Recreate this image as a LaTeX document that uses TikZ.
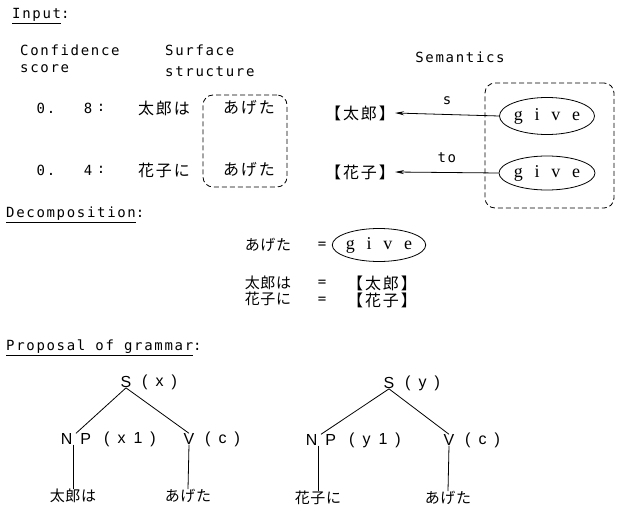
\documentclass[tikz,border=0pt]{standalone}
\usepackage{fontspec}
\usetikzlibrary{arrows.meta,shapes.geometric,fit}
\newfontfamily\monof[LetterSpace=12]{DejaVu Sans Mono}
\newfontfamily\jpf[LetterSpace=12]{Noto Sans CJK JP}
\newfontfamily\jpg[LetterSpace=4]{Noto Sans CJK JP}
\newfontfamily\serf[LetterSpace=65]{Liberation Serif}
\newfontfamily\helf[LetterSpace=50]{Liberation Sans}
\tikzset{
  lab/.style={font=\monof\fontsize{14}{16}\selectfont, inner sep=0pt},
  jp/.style={font=\jpf\fontsize{16}{18}\selectfont, inner sep=0pt},
  jps/.style={font=\jpg\fontsize{15}{17}\selectfont, inner sep=0pt},
  gv/.style={draw, line width=0.8pt, ellipse, inner sep=0pt, font=\serf\fontsize{18}{20}\selectfont},
  dashbox/.style={draw, dashed, line width=0.8pt, dash pattern=on 5pt off 3pt, rounded corners=10pt, inner sep=0pt},
  tr/.style={font=\helf\fontsize{16}{18}\selectfont, inner sep=0pt},
  arr/.style={-{Stealth[length=9pt,width=4pt]}, line width=0.8pt},
  edge/.style={line width=0.8pt}
}
\begin{document}
\begin{tikzpicture}[x=1pt,y=-1pt]
\useasboundingbox (0,0) rectangle (619,508);
% headings
\node[lab, anchor=west] (input) at (12,16) {\underline{Input}:};
\node[lab, anchor=west] (conf1) at (20,50) {Confidence};
\node[lab, anchor=west] (conf2) at (20,69) {score};
\node[lab, anchor=west] (surf1) at (165,50) {Surface};
\node[lab, anchor=west] (surf2) at (165,72) {structure};
\node[lab] (sem) at (460,57) {Semantics};
% rows
\node[lab] (s1a) at (46,108) {0.};
\node[lab] (s1b) at (88,108) {8};
\node[lab] (s1c) at (101,108) {:};
\node[lab] (s2a) at (46,170) {0.};
\node[lab] (s2b) at (88,170) {4};
\node[lab] (s2c) at (101,170) {:};
\node[jp] (w1) at (164,108) {太郎は};
\node[jp] (w2) at (164,170) {花子に};
\node[jp] (a1) at (249,108) {あげた};
\node[jp] (a2) at (249,170) {あげた};
\node[dashbox, fit={(203,95) (287,187)}] (box1) {};
\node[jp] (t1) at (360,113) {【太郎】};
\node[jp] (t2) at (360,172) {【花子】};
\node[gv, minimum width=95pt, minimum height=37pt] (g1) at (547,116) {give};
\node[gv, minimum width=96pt, minimum height=34pt] (g2) at (547,173) {give};
\node[dashbox, fit={(485,83) (614,208)}] (box2) {};
\draw[arr] (g1.west) -- node[lab, above=9pt] (ls) {s} (t1.east);
\draw[arr] (g2.west) -- node[lab, above=9pt] (lto) {to} (t2.east);
% decomposition
\node[lab, anchor=west] (decomp) at (6,215) {\underline{Decomposition}:};
\node[jps] (d1) at (268,245) {あげた};
\node[lab] (e1) at (322,245) {=};
\node[gv, minimum width=88pt, minimum height=33pt] (dg) at (379,245) {give};
\node[jps] (d2) at (268,283) {太郎は};
\node[lab] (e2) at (322,283) {=};
\node[jp] (dt) at (382,283) {【太郎】};
\node[jps] (d3) at (268,299) {花子に};
\node[lab] (e3) at (322,300) {=};
\node[jp] (dh) at (382,300) {【花子】};
% proposal
\node[lab, anchor=west] (prop) at (6,348) {\underline{Proposal of grammar}:};
% tree 1
\node[tr] (S1) at (126,382) {S};
\node[tr, anchor=west] (S1x) at (142,382) {(x)};
\node[tr] (NP1) at (76,439) {NP};
\node[tr, anchor=west] (NP1x) at (104,439) {(x1)};
\node[tr] (V1) at (189,439) {V};
\node[tr, anchor=west] (V1x) at (205,439) {(c)};
\node[jps] (L1) at (73,496) {太郎は};
\node[jps] (R1) at (188,496) {あげた};
\draw[edge] (S1.south) -- (NP1.north);
\draw[edge] (S1.south) -- (V1.north);
\draw[edge] (NP1.south -| L1.north) -- (L1.north);
\draw[edge] (V1.south) -- (R1.north);
% tree 2
\node[tr] (S2) at (389,383) {S};
\node[tr, anchor=west] (S2y) at (405,383) {(y)};
\node[tr] (NP2) at (321,440) {NP};
\node[tr, anchor=west] (NP2y) at (349,440) {(y1)};
\node[tr] (V2) at (449,440) {V};
\node[tr, anchor=west] (V2x) at (465,440) {(c)};
\node[jps] (L2) at (318,498) {花子に};
\node[jps] (R2) at (448,498) {あげた};
\draw[edge] (S2.south) -- (NP2.north);
\draw[edge] (S2.south) -- (V2.north);
\draw[edge] (NP2.south -| L2.north) -- (L2.north);
\draw[edge] (V2.south) -- (R2.north);
\end{tikzpicture}
\end{document}
